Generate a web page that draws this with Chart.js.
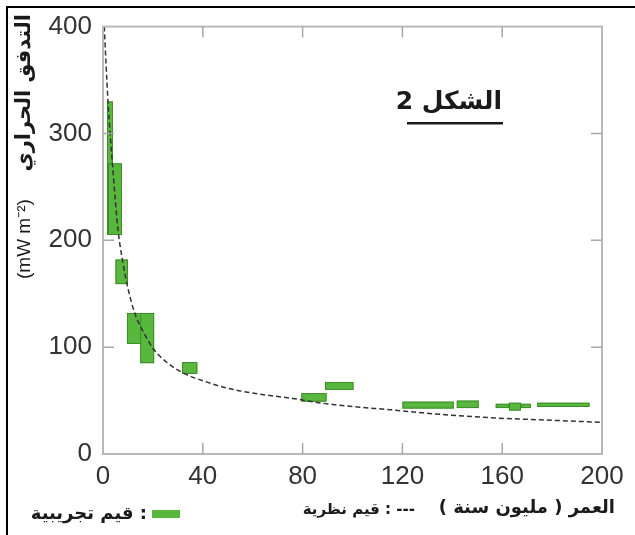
<!DOCTYPE html>
<html>
<head>
<meta charset="utf-8">
<script src="https://cdn.jsdelivr.net/npm/chart.js@4.4.0/dist/chart.umd.min.js"></script>
<style>
  body { margin: 0; background: #fff; }
  #wrap { width: 635px; height: 535px; }
</style>
</head>
<body>
<div id="wrap"><canvas id="heatChart" width="635" height="535"></canvas></div>
<script>
// --- Data ---
// theoretical curve (dashed)
const curveAge  = [0.5, 2, 4, 6, 8, 10, 13, 16, 20, 26, 32, 42, 51, 63, 76, 88, 102, 115, 128, 155, 175, 196, 200];
const curveFlow = [400, 330, 265, 210, 179, 155, 130, 115, 99, 85, 76, 67, 61, 56, 52, 47.5, 44, 41.5, 38.5, 34, 32, 30, 29.6];

// measured values: boxes (age range x flow range)
const boxAgeMin  = [1.6, 2, 5, 9.6, 14.9, 31.7, 79.5, 89, 120, 141.8, 157.4, 162.7, 167.5, 174];
const boxAgeMax  = [4, 7.6, 10, 15.7, 20.5, 37.8, 89.6, 100.4, 140.6, 150.6, 162.7, 167.5, 171.5, 195];
const boxFlowMin = [205, 205, 159, 103, 85, 75, 49, 60, 42.5, 43, 43, 40.6, 43, 44];
const boxFlowMax = [330, 272, 182, 132, 132, 86, 57, 67.4, 49, 50, 47, 48, 47, 48];

const xTicks = [0, 40, 80, 120, 160, 200];
const yTicks = [0, 100, 200, 300, 400];

const GREEN = "#58b83e";
const GREEN_EDGE = "#3e8c2a";
const ARABIC = "'DejaVu Sans', sans-serif";

// --- Boxes, frame, inward ticks and texts ---
const figurePlugin = {
  id: "figure",
  beforeDatasetsDraw(chart) {
    const { ctx, scales } = chart;
    const x = scales.x, y = scales.y;
    ctx.save();
    for (let i = 0; i < boxAgeMin.length; i++) {
      const x1 = x.getPixelForValue(boxAgeMin[i]);
      const x2 = x.getPixelForValue(boxAgeMax[i]);
      const y1 = y.getPixelForValue(boxFlowMax[i]);
      const y2 = y.getPixelForValue(boxFlowMin[i]);
      ctx.fillStyle = GREEN;
      ctx.fillRect(x1, y1, x2 - x1, y2 - y1);
      ctx.strokeStyle = GREEN_EDGE;
      ctx.lineWidth = 1;
      ctx.strokeRect(x1 + 0.5, y1 + 0.5, x2 - x1 - 1, y2 - y1 - 1);
    }
    ctx.restore();
  },
  afterDraw(chart) {
    const { ctx, chartArea: a, scales } = chart;
    ctx.save();

    // plot frame
    ctx.strokeStyle = "#b8b8b8";
    ctx.lineWidth = 2;
    ctx.strokeRect(a.left, a.top, a.right - a.left, a.bottom - a.top);

    // inward ticks
    ctx.lineWidth = 1.5;
    ctx.strokeStyle = "#a8a8a8";
    const len = 11;
    xTicks.slice(1, -1).forEach(v => {
      const px = scales.x.getPixelForValue(v);
      ctx.beginPath();
      ctx.moveTo(px, a.bottom); ctx.lineTo(px, a.bottom - len);
      ctx.moveTo(px, a.top); ctx.lineTo(px, a.top + len);
      ctx.stroke();
    });
    yTicks.slice(1, -1).forEach(v => {
      const py = scales.y.getPixelForValue(v);
      ctx.beginPath();
      ctx.moveTo(a.left, py); ctx.lineTo(a.left + len, py);
      ctx.moveTo(a.right, py); ctx.lineTo(a.right - len, py);
      ctx.stroke();
    });

    // outer black border (top + left)
    ctx.fillStyle = "#000";
    ctx.fillRect(6, 6, 629, 2);
    ctx.fillRect(6, 6, 2, 529);

    ctx.fillStyle = "#1a1a1a";
    ctx.textBaseline = "middle";

    // y axis title (rotated)
    ctx.save();
    ctx.translate(25, 279);
    ctx.rotate(-Math.PI / 2);
    ctx.textAlign = "left";
    ctx.font = "19px 'Liberation Sans', sans-serif";
    ctx.fillText("(mW m⁻²)", 0, 0);
    ctx.direction = "rtl";
    ctx.textAlign = "right";
    ctx.font = "bold 21px " + ARABIC;
    ctx.fillText("التدفق الحراري", 265, 0);
    ctx.restore();

    // figure title
    ctx.direction = "rtl";
    ctx.textAlign = "right";
    ctx.font = "bold 25px " + ARABIC;
    ctx.fillText("الشكل 2", 502, 102);
    ctx.fillRect(407, 122, 96, 2.5);

    // x axis title
    ctx.font = "bold 18px " + ARABIC;
    ctx.fillText("العمر ( مليون سنة )", 615, 508);

    // legend: theoretical
    ctx.font = "bold 15px " + ARABIC;
    ctx.fillText("--- : قيم نظرية", 415, 510);

    // legend: measured
    ctx.font = "bold 18px " + ARABIC;
    ctx.fillText(": قيم تجريبية", 147, 514);
    ctx.fillStyle = GREEN;
    ctx.fillRect(152, 510, 28, 8);

    ctx.restore();
  }
};

const ctx = document.getElementById("heatChart").getContext("2d");
const tickFont = { family: "'Liberation Sans Narrow', 'Liberation Sans', sans-serif", size: 26 };

new Chart(ctx, {
  type: "scatter",
  data: {
    datasets: [
      {
        label: "theory",
        data: curveAge.map((t, i) => ({ x: t, y: curveFlow[i] })),
        showLine: true,
        borderColor: "#333",
        borderWidth: 1.5,
        borderDash: [5, 3],
        pointRadius: 0,
        cubicInterpolationMode: "monotone",
        fill: false,
      },
    ],
  },
  options: {
    responsive: false,
    animation: false,
    layout: { padding: { top: 21, right: 33, bottom: 0, left: 0 } },
    plugins: { legend: { display: false }, tooltip: { enabled: false } },
    scales: {
      x: {
        type: "linear",
        min: 0,
        max: 200,
        afterBuildTicks: s => { s.ticks = xTicks.map(v => ({ value: v })); },
        afterFit: s => { s.height = 81; },
        grid: { display: false, drawTicks: false },
        border: { display: false },
        ticks: { color: "#333", font: tickFont, padding: 7, maxRotation: 0 },
      },
      y: {
        min: 0,
        max: 400,
        afterBuildTicks: s => { s.ticks = yTicks.map(v => ({ value: v })); },
        afterFit: s => { s.width = 103; },
        grid: { display: false, drawTicks: false },
        border: { display: false },
        ticks: { color: "#333", font: tickFont, padding: 11 },
      },
    },
  },
  plugins: [figurePlugin],
});
</script>
</body>
</html>
